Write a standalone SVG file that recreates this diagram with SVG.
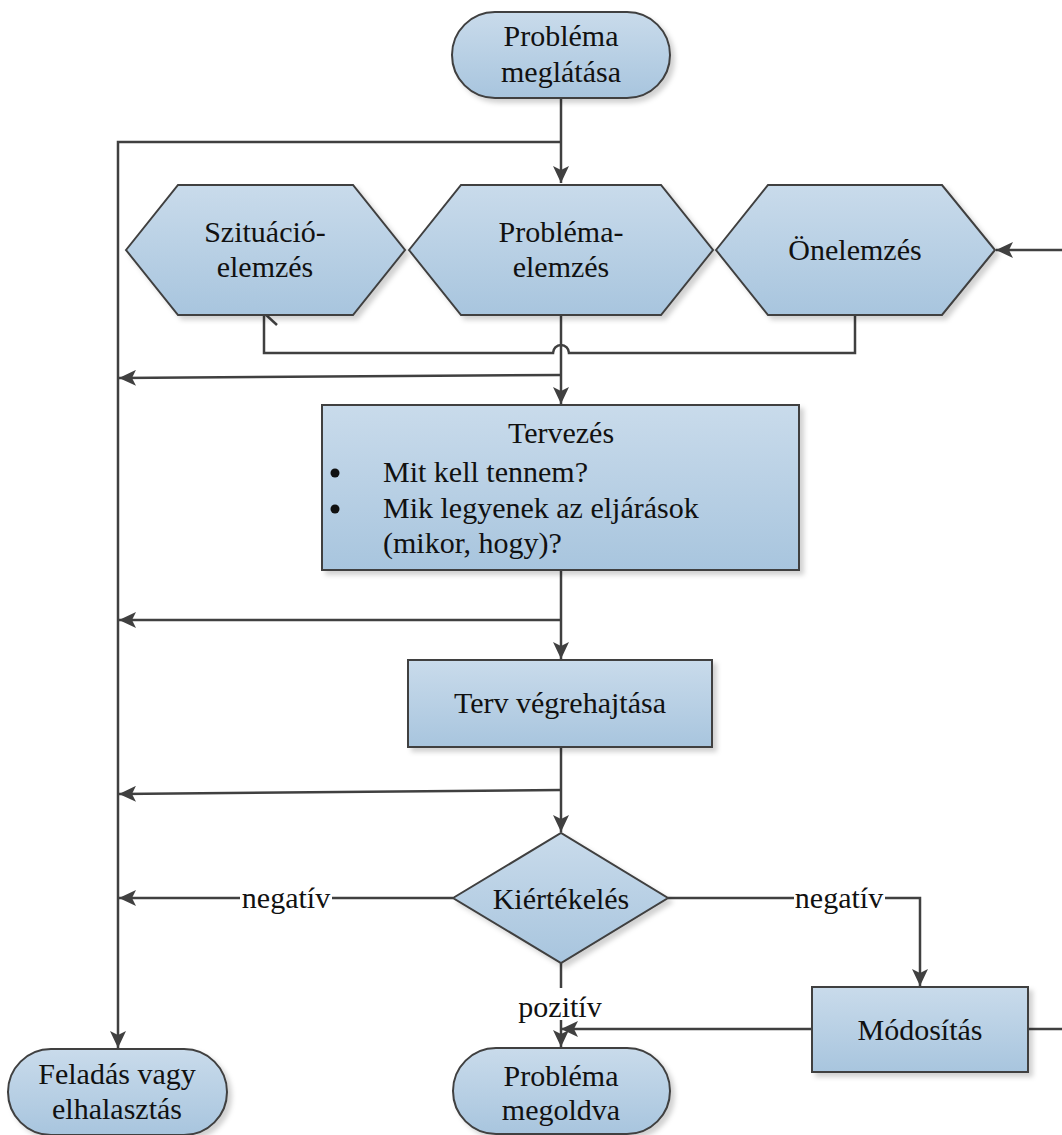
<svg xmlns="http://www.w3.org/2000/svg" width="1062" height="1135" viewBox="0 0 1062 1135" font-family="Liberation Serif">
  <defs>
    <linearGradient id="nodeFill" x1="0" y1="0" x2="0" y2="1">
      <stop offset="0" stop-color="#c9dbeb"/>
      <stop offset="1" stop-color="#a8c5de"/>
    </linearGradient>
    <filter id="shadow" x="-10%" y="-10%" width="125%" height="130%">
      <feDropShadow dx="4" dy="4" stdDeviation="2.5" flood-color="#000" flood-opacity="0.18"/>
    </filter>
    <marker id="arrow" markerUnits="userSpaceOnUse" markerWidth="18" markerHeight="16" refX="17" refY="8" orient="auto">
      <path d="M0,0 L17,8 L0,16 L4,8 Z" fill="#404040"/>
    </marker>
    <style>
      .node { fill: url(#nodeFill); stroke: #3f3f3f; stroke-width: 2; filter: url(#shadow); }
      .label { font-family: 'Liberation Serif', serif; font-size: 30px; fill: #111; }
      .mid { text-anchor: middle; }
      .wire { fill: none; stroke: #404040; stroke-width: 2.5; }
      .tag { fill: #fff; }
    </style>
  </defs>

  <rect width="1062" height="1135" fill="#fff"/>

  <!-- connectors -->
  <g id="connectors">
    <!-- start down to problem analysis, with branch to the give-up rail -->
    <path class="wire" d="M561,98 V183" marker-end="url(#arrow)"/>
    <path class="wire" d="M561,142 H118 V1048" marker-end="url(#arrow)"/>
    <!-- incoming from the right into self-analysis -->
    <path class="wire" d="M1062,250 H996" marker-end="url(#arrow)"/>
    <!-- collector under the three analyses, hopping over the main line -->
    <path class="wire" d="M264,315 V353 H553 A8,8 0 0 1 569,353 H855 V315"/>
    <line class="wire" x1="253" y1="303" x2="277" y2="325"/>
    <!-- problem analysis down to planning -->
    <path class="wire" d="M561,315 V404" marker-end="url(#arrow)"/>
    <path class="wire" d="M561,375 L119,378" marker-end="url(#arrow)"/>
    <!-- planning down to execution -->
    <path class="wire" d="M561,570 V659" marker-end="url(#arrow)"/>
    <path class="wire" d="M561,620 H119" marker-end="url(#arrow)"/>
    <!-- execution down to evaluation -->
    <path class="wire" d="M561,747 V832" marker-end="url(#arrow)"/>
    <path class="wire" d="M561,790 L119,794" marker-end="url(#arrow)"/>
    <!-- evaluation outcomes -->
    <path class="wire" d="M453,898 H119" marker-end="url(#arrow)"/>
    <path class="wire" d="M668,898 H920 V986" marker-end="url(#arrow)"/>
    <path class="wire" d="M561,963 V1047" marker-end="url(#arrow)"/>
    <!-- modification loops back -->
    <path class="wire" d="M812,1029 H561" marker-end="url(#arrow)"/>
    <path class="wire" d="M1028,1029 H1062"/>

    <!-- edge labels -->
    <rect class="tag" x="240" y="884" width="92" height="30"/>
    <text class="label mid" x="286" y="908">negatív</text>
    <rect class="tag" x="794" y="884" width="91" height="30"/>
    <text class="label mid" x="839" y="908">negatív</text>
    <rect class="tag" x="516" y="988" width="90" height="32"/>
    <text class="label mid" x="560" y="1017">pozitív</text>
  </g>

  <g id="node-start">
    <rect class="node" x="452" y="12" width="218" height="86" rx="43" ry="43"/>
    <text class="label mid" x="561" y="46">Probléma</text>
    <text class="label mid" x="561" y="82">meglátása</text>
  </g>

  <g id="node-situation">
    <polygon class="node" points="126,250 178,185 353,185 405,250 353,315 178,315"/>
    <text class="label mid" x="265" y="242">Szituáció-</text>
    <text class="label mid" x="265" y="277">elemzés</text>
  </g>

  <g id="node-problem">
    <polygon class="node" points="409,250 461,185 661,185 713,250 661,315 461,315"/>
    <text class="label mid" x="561" y="242">Probléma-</text>
    <text class="label mid" x="561" y="277">elemzés</text>
  </g>

  <g id="node-self">
    <polygon class="node" points="716,250 768,185 942,185 995,250 942,315 768,315"/>
    <text class="label mid" x="855" y="260">Önelemzés</text>
  </g>

  <g id="node-planning">
    <rect class="node" x="322" y="405" width="477" height="165"/>
    <text class="label mid" x="561" y="443">Tervezés</text>
    <circle cx="335" cy="473" r="4.5" fill="#111"/>
    <text class="label" x="383" y="482">Mit kell tennem?</text>
    <circle cx="335" cy="509" r="4.5" fill="#111"/>
    <text class="label" x="383" y="518">Mik legyenek az eljárások</text>
    <text class="label" x="383" y="553">(mikor, hogy)?</text>
  </g>

  <g id="node-execution">
    <rect class="node" x="408" y="660" width="304" height="87"/>
    <text class="label mid" x="560" y="713">Terv végrehajtása</text>
  </g>

  <g id="node-evaluation">
    <polygon class="node" points="453,898 561,833 668,898 561,963"/>
    <text class="label mid" x="561" y="909">Kiértékelés</text>
  </g>

  <g id="node-modification">
    <rect class="node" x="812" y="987" width="216" height="85"/>
    <text class="label mid" x="920" y="1040">Módosítás</text>
  </g>

  <g id="node-giveup">
    <rect class="node" x="8" y="1049" width="219" height="86" rx="43" ry="43"/>
    <text class="label mid" x="117" y="1084">Feladás vagy</text>
    <text class="label mid" x="117" y="1119">elhalasztás</text>
  </g>

  <g id="node-solved">
    <rect class="node" x="453" y="1048" width="217" height="86" rx="43" ry="43"/>
    <text class="label mid" x="561" y="1086">Probléma</text>
    <text class="label mid" x="561" y="1120">megoldva</text>
  </g>
</svg>
